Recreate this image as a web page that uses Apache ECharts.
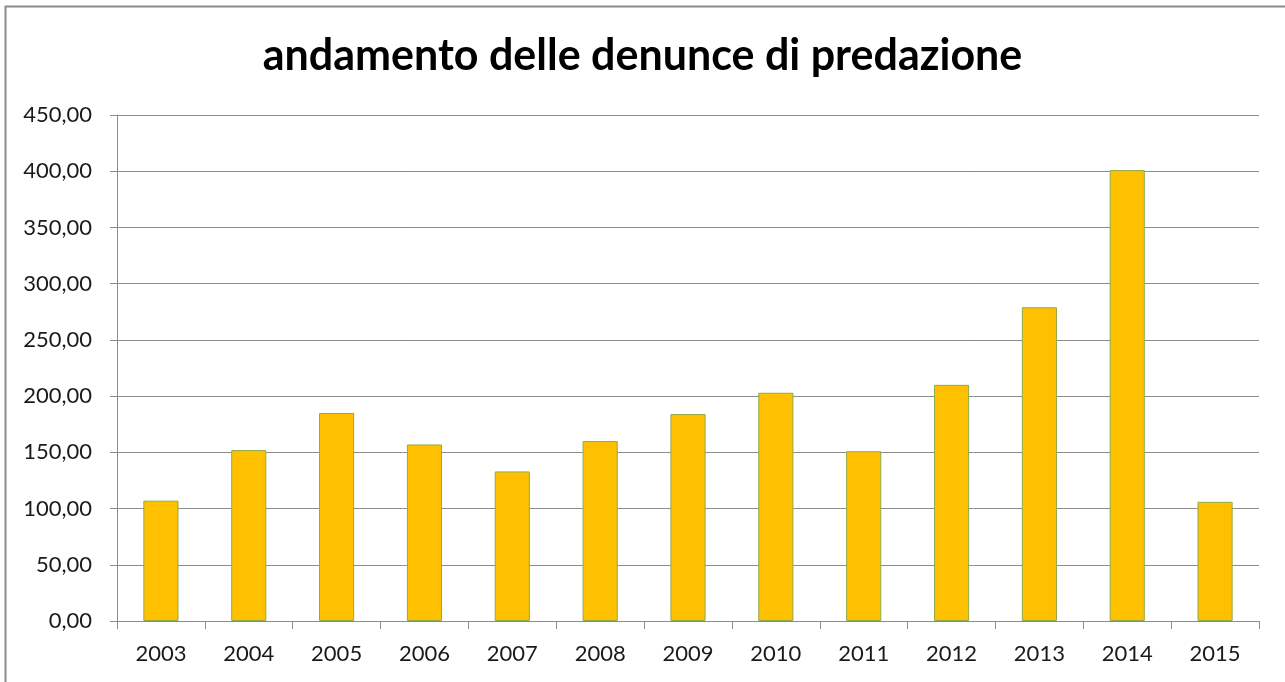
<!DOCTYPE html>
<html>
<head>
<meta charset="utf-8">
<script src="https://cdn.jsdelivr.net/npm/echarts@6/dist/echarts.min.js"></script>
<style>
  html, body { margin: 0; padding: 0; background: #fff; }
  #main { width: 1285px; height: 682px; }
</style>
</head>
<body>
<div id="main"></div>
<script>
// dati del grafico
var anni = ['2003', '2004', '2005', '2006', '2007', '2008', '2009', '2010', '2011', '2012', '2013', '2014', '2015'];
var denunce = [107, 152, 185, 157, 133, 160, 184, 203, 151, 210, 279, 401, 106];
var titolo = 'andamento delle denunce di predazione';

var myChart = echarts.init(document.getElementById('main'));
var option;

option = {
    backgroundColor: '#fff',
    animation: false,
    title: {
        text: titolo,
        left: 'center',
        top: 30,
        textStyle: {
            fontFamily: 'Lato',
            fontWeight: 'bold',
            fontSize: 43,
            color: '#000'
        }
    },
    // cornice esterna
    graphic: [{
        type: 'rect',
        shape: { x: 5.5, y: 6.5, width: 1300, height: 700 },
        style: { fill: 'none', stroke: '#8c8c8c', lineWidth: 2 },
        silent: true
    }],
    grid: {
        left: 117,
        right: 26,
        top: 115,
        bottom: 61
    },
    xAxis: {
        type: 'category',
        data: anni,
        axisLine: { lineStyle: { color: '#8c8c8c', width: 1 } },
        axisTick: { show: true, length: 8, lineStyle: { color: '#8c8c8c' } },
        axisLabel: {
            fontFamily: 'Lato',
            fontSize: 22,
            color: '#1a1a1a',
            margin: 22
        }
    },
    yAxis: {
        type: 'value',
        min: 0,
        max: 450,
        interval: 50,
        axisLine: { show: true, lineStyle: { color: '#8c8c8c' } },
        axisTick: { show: true, length: 7, lineStyle: { color: '#8c8c8c' } },
        splitLine: { lineStyle: { color: '#8c8c8c', width: 1 } },
        axisLabel: {
            fontFamily: 'Lato',
            fontSize: 22,
            color: '#1a1a1a',
            margin: 25,
            formatter: function (v) {
                return v.toFixed(2).replace('.', ',');
            }
        }
    },
    series: [{
        type: 'bar',
        data: denunce,
        barWidth: '40%',
        itemStyle: {
            color: '#FFC000',
            borderColor: '#8faa4a',
            borderWidth: 1
        }
    }]
};

option && myChart.setOption(option);
</script>
</body>
</html>
